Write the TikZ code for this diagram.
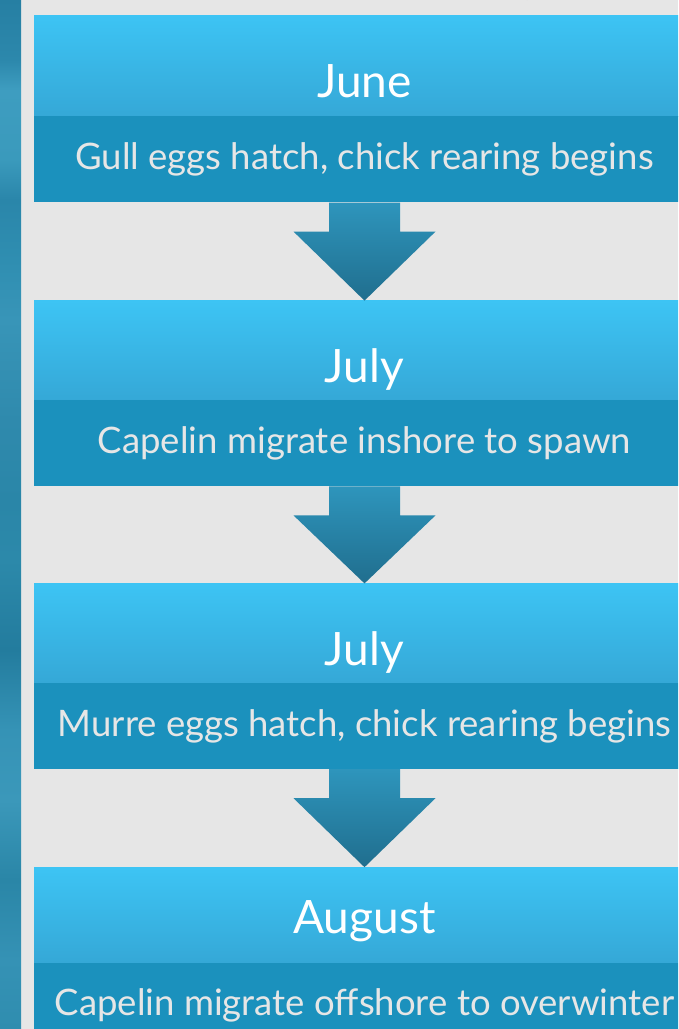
\documentclass[tikz,border=0pt]{standalone}
\usepackage{fontspec}
\setmainfont{Lato}
\usetikzlibrary{positioning, calc}
\definecolor{pagegray}{HTML}{E6E6E6}
\definecolor{skytop}{HTML}{3DC4F4}
\definecolor{skybot}{HTML}{35A8D7}
\definecolor{deepband}{HTML}{1B91BD}
\definecolor{arrowtop}{HTML}{2E95BC}
\definecolor{arrowbot}{HTML}{206E8E}
\definecolor{desctext}{HTML}{E6E6E6}
% left strip colours, top to bottom
\definecolor{stA}{HTML}{267FA3}
\definecolor{stB}{HTML}{2C88AC}
\definecolor{stC}{HTML}{3E9DC0}
\definecolor{stD}{HTML}{3A9ABC}
\definecolor{stE}{HTML}{2A86AA}
\definecolor{stF}{HTML}{2F8EB1}
\definecolor{stG}{HTML}{3895B8}
\definecolor{stH}{HTML}{2F8AAD}
\definecolor{stI}{HTML}{2A86A8}
\definecolor{stJ}{HTML}{2C89AA}
\definecolor{stK}{HTML}{237C9E}
\definecolor{stL}{HTML}{3593B6}
\definecolor{stM}{HTML}{3B98BA}
\definecolor{stN}{HTML}{2A86A7}
\definecolor{stO}{HTML}{3592B5}
\definecolor{stP}{HTML}{2F8DAF}
\pgfdeclareverticalshading{stripshade}{100bp}{%
  color(0bp)=(stP); color(25bp)=(stP); color(28.35bp)=(stO);
  color(32.24bp)=(stN); color(36.13bp)=(stM); color(39.53bp)=(stL);
  color(43.42bp)=(stK); color(47.79bp)=(stJ); color(50.7bp)=(stI);
  color(54.59bp)=(stH); color(59.45bp)=(stG); color(62.37bp)=(stF);
  color(65.28bp)=(stE); color(67.23bp)=(stD); color(70.63bp)=(stC);
  color(72.08bp)=(stB); color(75bp)=(stA); color(100bp)=(stA)}

\begin{document}
\begin{tikzpicture}[x=1pt, y=-1pt,
  titlebox/.style={top color=skytop, bottom color=skybot, text=white,
    minimum width=661pt, minimum height=99pt, inner sep=0pt,
    text height=74pt, text depth=10pt,
    font=\fontsize{46}{50}\selectfont},
  descbox/.style={fill=deepband, text=desctext,
    minimum width=661pt, minimum height=86pt, inner sep=0pt,
    font=\fontsize{36.5}{40}\selectfont},
  flowarrow/.style={top color=arrowtop, bottom color=arrowbot}]

% Frame
\useasboundingbox (0,0) rectangle (678,1029);
\clip (0,0) rectangle (678,1029);
\fill[pagegray] (0,0) rectangle (678,1029);
\shade[shading=stripshade] (0,0) rectangle (21,1029);

% Cut-off heading above
\node[text=black, font=\fontsize{44}{48}\selectfont, anchor=base, inner sep=0pt]
  (heading) at (528,-8) {g};

% Periods
\node[titlebox, minimum height=101pt] (t1) at (364.5,65.5) {June};
\node[descbox, below=0pt of t1] (d1) {Gull eggs hatch, chick rearing begins};

\node[titlebox, below=98pt of d1] (t2) {July};
\node[descbox, below=0pt of t2] (d2) {Capelin migrate inshore to spawn};

\node[titlebox, below=97pt of d2] (t3) {July};
\node[descbox, below=0pt of t3] (d3) {Murre eggs hatch, chick rearing begins};

\node[titlebox, minimum height=95pt, text height=48pt, below=98pt of d3] (t4) {August};
\node[descbox, below=0pt of t4] (d4) {Capelin migrate offshore to overwinter};

% Arrows between periods
\foreach \from/\to in {d1/t2, d2/t3, d3/t4}
  \shade[flowarrow]
    ($(\from.south)+(-35.5,0)$) -- ($(\from.south)+(35.5,0)$)
    -- ($(\from.south)+(35.5,29)$) -- ($(\from.south)+(71,29)$)
    -- (\to.north)
    -- ($(\from.south)+(-71,29)$) -- ($(\from.south)+(-35.5,29)$) -- cycle;

\end{tikzpicture}
\end{document}
